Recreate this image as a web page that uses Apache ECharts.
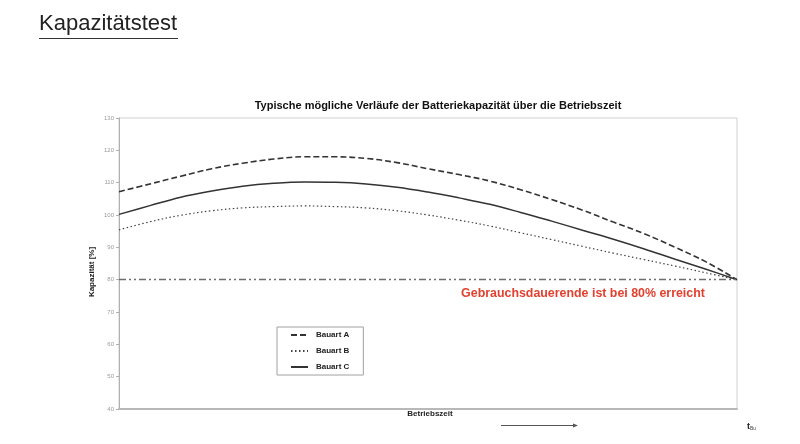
<!DOCTYPE html>
<html>
<head>
<meta charset="utf-8">
<title>Kapazitätstest</title>
<script src="https://cdn.jsdelivr.net/npm/echarts@6/dist/echarts.min.js"></script>
<style>
    html, body { margin: 0; padding: 0; background: #fff; }
    #chart { width: 800px; height: 444px; }
</style>
</head>
<body>
<div id="chart"></div>
<script>
// Betriebszeit in % der Gebrauchsdauer (0 = neu, 100 = t_Bu)
var zeit = [0, 5, 10, 15, 20, 25, 30, 35, 40, 45, 50, 55, 60, 65, 70, 75, 80, 85, 90, 95, 100];

// Kapazität [%]
var bauartA = [107.2, 109.6, 112.0, 114.3, 116.0, 117.3, 118.0, 118.0, 117.5, 116.2, 114.3,
               112.5, 110.5, 107.8, 104.8, 101.5, 97.8, 94.2, 90.0, 85.5, 80];
var bauartB = [95.4, 97.9, 99.9, 101.3, 102.2, 102.6, 102.8, 102.6, 102.2, 101.3, 100.0,
               98.4, 96.6, 94.5, 92.4, 90.3, 88.2, 86.2, 84.2, 82.1, 80];
var bauartC = [100.2, 102.9, 105.5, 107.4, 108.9, 109.8, 110.2, 110.1, 109.6, 108.6, 107.1,
               105.3, 103.3, 100.8, 98.1, 95.3, 92.5, 89.5, 86.3, 83.2, 80];

var grenze = 80;
var yTicks = [40, 130, 10]; // min, max, interval

function pairs(values) {
    return zeit.map(function(t, i) {
        return [t, values[i]];
    });
}

var fontFamily = '"Liberation Sans", Arial, sans-serif';

var myChart = echarts.init(document.getElementById('chart'));

var option = {
    animation: false,
    textStyle: { fontFamily: fontFamily },
    grid: {
        left: 119,
        top: 118,
        width: 618,
        height: 291,
        show: true,
        borderColor: '#cfcfcf',
        borderWidth: 1
    },
    xAxis: {
        type: 'value',
        min: 0,
        max: 100,
        axisLine: { lineStyle: { color: '#b8b8b8', width: 2 } },
        axisTick: { show: false },
        axisLabel: { show: false },
        splitLine: { show: false }
    },
    yAxis: {
        type: 'value',
        min: yTicks[0],
        max: yTicks[1],
        interval: yTicks[2],
        axisLine: { show: true, lineStyle: { color: '#b0b0b0' } },
        axisTick: { show: true, length: 3, lineStyle: { color: '#b0b0b0' } },
        axisLabel: { color: '#9a9a9a', fontSize: 6, margin: 5 },
        splitLine: { show: false }
    },
    legend: {
        orient: 'vertical',
        left: 277,
        top: 327,
        padding: [4, 14, 4, 13],
        itemWidth: 17,
        itemHeight: 9,
        itemGap: 8,
        borderColor: '#a0a0a0',
        borderWidth: 1,
        itemStyle: { opacity: 0, borderWidth: 0 },
        textStyle: {
            fontSize: 8,
            fontWeight: 'bold',
            color: '#222',
            padding: [0, 0, 0, 3]
        },
        data: ['Bauart A', 'Bauart B', 'Bauart C']
    },
    series: [
        {
            name: 'Bauart A',
            type: 'line',
            smooth: 0.4,
            symbol: 'none',
            data: pairs(bauartA),
            itemStyle: { color: '#333' },
            lineStyle: { color: '#333', width: 1.6, type: [6, 3] }
        },
        {
            name: 'Bauart B',
            type: 'line',
            smooth: 0.4,
            symbol: 'none',
            data: pairs(bauartB),
            itemStyle: { color: '#444' },
            lineStyle: { color: '#444', width: 1.2, type: [1.5, 2.5] }
        },
        {
            name: 'Bauart C',
            type: 'line',
            smooth: 0.4,
            symbol: 'none',
            data: pairs(bauartC),
            itemStyle: { color: '#333' },
            lineStyle: { color: '#333', width: 1.5 },
            markLine: {
                silent: true,
                symbol: 'none',
                label: { show: false },
                lineStyle: { color: '#6e6e6e', width: 1.3, type: [7, 3, 2, 3, 2, 3] },
                data: [{ yAxis: grenze }]
            }
        }
    ],
    graphic: [
        {
            type: 'text',
            left: 39,
            top: 13,
            style: {
                text: 'Kapazitätstest',
                fontSize: 22,
                fontFamily: fontFamily,
                fill: '#222'
            }
        },
        {
            type: 'line',
            shape: { x1: 39, y1: 38.5, x2: 178, y2: 38.5 },
            style: { stroke: '#333', lineWidth: 1 }
        },
        {
            type: 'text',
            x: 438,
            y: 106,
            style: {
                text: 'Typische mögliche Verläufe der Batteriekapazität über die Betriebszeit',
                fontSize: 11,
                fontWeight: 'bold',
                fontFamily: fontFamily,
                fill: '#111',
                align: 'center',
                verticalAlign: 'middle'
            }
        },
        {
            type: 'text',
            x: 583,
            y: 294,
            style: {
                text: 'Gebrauchsdauerende ist bei 80% erreicht',
                fontSize: 12.4,
                fontWeight: 'bold',
                fontFamily: fontFamily,
                fill: '#e2412f',
                align: 'center',
                verticalAlign: 'middle'
            }
        },
        {
            type: 'text',
            x: 92,
            y: 272,
            rotation: Math.PI / 2,
            style: {
                text: 'Kapazität [%]',
                fontSize: 8,
                fontWeight: 'bold',
                fontFamily: fontFamily,
                fill: '#222',
                align: 'center',
                verticalAlign: 'middle'
            }
        },
        {
            type: 'text',
            x: 430,
            y: 414,
            style: {
                text: 'Betriebszeit',
                fontSize: 8,
                fontWeight: 'bold',
                fontFamily: fontFamily,
                fill: '#222',
                align: 'center',
                verticalAlign: 'middle'
            }
        },
        {
            type: 'line',
            shape: { x1: 501, y1: 425.5, x2: 576, y2: 425.5 },
            style: { stroke: '#555', lineWidth: 1 }
        },
        {
            type: 'polygon',
            shape: { points: [[578, 425.5], [573, 423.5], [573, 427.5]] },
            style: { fill: '#555' }
        },
        {
            type: 'text',
            x: 747,
            y: 427,
            style: {
                text: '{t|t}{s|Bu}',
                verticalAlign: 'middle',
                rich: {
                    t: { fontSize: 9, fontWeight: 'bold', fontFamily: fontFamily, fill: '#222' },
                    s: { fontSize: 5, fontFamily: fontFamily, fill: '#444', padding: [4, 0, 0, 0] }
                }
            }
        }
    ]
};

myChart.setOption(option);
</script>
</body>
</html>
